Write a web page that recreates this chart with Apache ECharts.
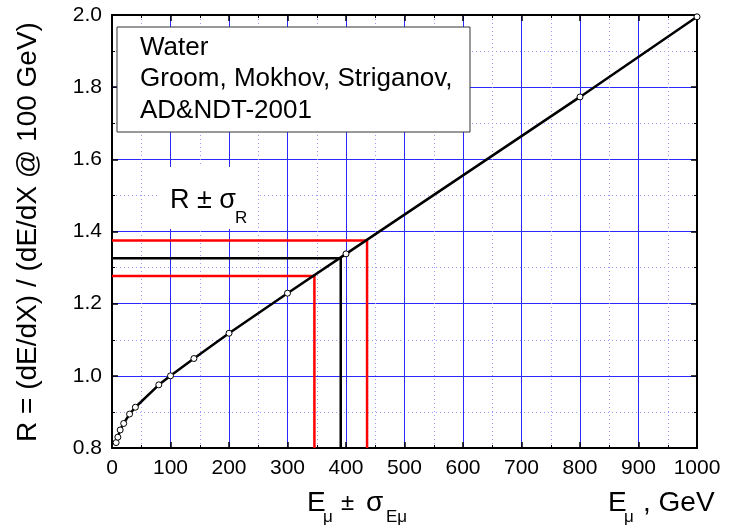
<!DOCTYPE html>
<html><head><meta charset="utf-8">
<script src="https://cdn.jsdelivr.net/npm/echarts@6/dist/echarts.min.js"></script>
<style>html,body{margin:0;padding:0;background:#fff}#c{width:731px;height:531px}</style>
</head><body><div id="c"></div>
<script>
// Muon energy (GeV) and R = (dE/dX)/(dE/dX @ 100 GeV), water
const energies = [7, 10, 14, 20, 30, 40, 80, 100, 140, 200, 300, 400, 800, 1000];
const ratios   = [0.815, 0.830, 0.850, 0.868, 0.894, 0.913, 0.975, 1.000, 1.048, 1.118, 1.229, 1.338, 1.773, 1.995];
// axis ranges / tick steps
const xRange = [0, 1000], xStep = 100;
const yRange = [0.8, 2.0], yStep = 0.2;
// R ± sigma_R  ->  E ± sigma_E construction
const rCentral = 1.326, eCentral = 391;
const rUpper = 1.375, eUpper = 436;
const rLower = 1.277, eLower = 346;
const legendLines = ['Water', 'Groom, Mokhov, Striganov,', 'AD&NDT-2001'];

const FONT = '"Liberation Sans", Arial, Helvetica, sans-serif';
const chart = echarts.init(document.getElementById('c'), null, {renderer: 'canvas'});

function stepData(r, e) { return [[xRange[0], r], [e, r], [e, yRange[0]]]; }

const baseAxis = {
  type: 'value',
  axisLine: {show: true, onZero: false, lineStyle: {color: '#000', width: 2}},
  axisTick: {show: true, inside: true, length: 6, lineStyle: {color: '#000', width: 1.5}},
  minorTick: {show: true, splitNumber: 2, length: 3, lineStyle: {color: '#000', width: 1}},
};

const option = {
  backgroundColor: '#fff',
  animation: false,
  grid: {left: 112, right: 34, top: 15, bottom: 83, containLabel: false},
  xAxis: [
    Object.assign({}, baseAxis, {
      min: xRange[0], max: xRange[1], interval: xStep, position: 'bottom',
      axisLabel: {color: '#000', fontSize: 21, fontFamily: FONT, margin: 10,
                  formatter: v => String(v)},
      splitLine: {show: true, lineStyle: {color: '#2a2aff', width: 1}},
      minorSplitLine: {show: true, lineStyle: {color: '#9a9aff', width: 1, type: [1, 3]}}
    }),
    Object.assign({}, baseAxis, {
      min: xRange[0], max: xRange[1], interval: xStep, position: 'top',
      axisLabel: {show: false}, splitLine: {show: false}
    })
  ],
  yAxis: [
    Object.assign({}, baseAxis, {
      min: yRange[0], max: yRange[1], interval: yStep, position: 'left',
      axisLabel: {color: '#000', fontSize: 21, fontFamily: FONT, margin: 10,
                  formatter: v => v.toFixed(1)},
      splitLine: {show: true, lineStyle: {color: '#2a2aff', width: 1}},
      minorSplitLine: {show: true, lineStyle: {color: '#9a9aff', width: 1, type: [1, 3]}}
    }),
    Object.assign({}, baseAxis, {
      min: yRange[0], max: yRange[1], interval: yStep, position: 'right',
      axisLabel: {show: false}, splitLine: {show: false}
    })
  ],
  series: [
    {type: 'line', data: stepData(rUpper, eUpper), symbol: 'none',
     lineStyle: {color: '#ff0000', width: 2.5}, z: 3},
    {type: 'line', data: stepData(rLower, eLower), symbol: 'none',
     lineStyle: {color: '#ff0000', width: 2.5}, z: 3},
    {type: 'line', data: stepData(rCentral, eCentral), symbol: 'none',
     lineStyle: {color: '#000', width: 2.5}, z: 3},
    {type: 'line', data: energies.map((e, i) => [e, ratios[i]]),
     symbol: 'circle', symbolSize: 6, showAllSymbol: true,
     itemStyle: {color: '#fff', borderColor: '#000', borderWidth: 1},
     lineStyle: {color: '#000', width: 2.5}, z: 4}
  ],
  graphic: [
    {type: 'rect', z: 100, shape: {x: 117, y: 27, width: 353, height: 105},
     style: {fill: '#fff', stroke: '#333', lineWidth: 1}},
    ...legendLines.map((t, i) => ({type: 'text', z: 101, x: 140, y: 47.5 + i * 31.7,
      style: {text: t, fontSize: 26, fontFamily: FONT, fill: '#000', textVerticalAlign: 'middle'}})),
    // R ± σR label with white background
    {type: 'rect', z: 100, shape: {x: 157, y: 167, width: 100, height: 62},
     style: {fill: '#fff', stroke: null}},
    {type: 'text', z: 101, x: 170, y: 200.5,
     style: {text: 'R ± σ', fontSize: 27, fontFamily: FONT, fill: '#000', textVerticalAlign: 'middle'}},
    {type: 'text', z: 101, x: 235, y: 218,
     style: {text: 'R', fontSize: 17, fontFamily: FONT, fill: '#000', textVerticalAlign: 'middle'}},
    // Y axis title
    {type: 'text', z: 101, x: 28, y: 232, rotation: Math.PI / 2,
     style: {text: 'R = (dE/dX) / (dE/dX @ 100 GeV)', fontSize: 28, fontFamily: FONT, fill: '#000',
             textAlign: 'center', textVerticalAlign: 'middle'}},
    // E_mu ± sigma_Emu
    {type: 'text', z: 101, x: 307, y: 503,
     style: {text: 'E', fontSize: 28, fontFamily: FONT, fill: '#000', textVerticalAlign: 'middle'}},
    {type: 'text', z: 101, x: 323, y: 517,
     style: {text: 'μ', fontSize: 17, fontFamily: FONT, fill: '#000', textVerticalAlign: 'middle'}},
    {type: 'text', z: 101, x: 341, y: 503,
     style: {text: '±', fontSize: 24, fontFamily: FONT, fill: '#000', textVerticalAlign: 'middle'}},
    {type: 'text', z: 101, x: 366, y: 503,
     style: {text: 'σ', fontSize: 28, fontFamily: FONT, fill: '#000', textVerticalAlign: 'middle'}},
    {type: 'text', z: 101, x: 386, y: 517,
     style: {text: 'Eμ', fontSize: 17, fontFamily: FONT, fill: '#000', textVerticalAlign: 'middle'}},
    // E_mu , GeV
    {type: 'text', z: 101, x: 608, y: 503,
     style: {text: 'E', fontSize: 28, fontFamily: FONT, fill: '#000', textVerticalAlign: 'middle'}},
    {type: 'text', z: 101, x: 624, y: 517,
     style: {text: 'μ', fontSize: 17, fontFamily: FONT, fill: '#000', textVerticalAlign: 'middle'}},
    {type: 'text', z: 101, x: 643, y: 503,
     style: {text: ', GeV', fontSize: 28, fontFamily: FONT, fill: '#000', textVerticalAlign: 'middle'}}
  ]
};
chart.setOption(option);
</script></body></html>
